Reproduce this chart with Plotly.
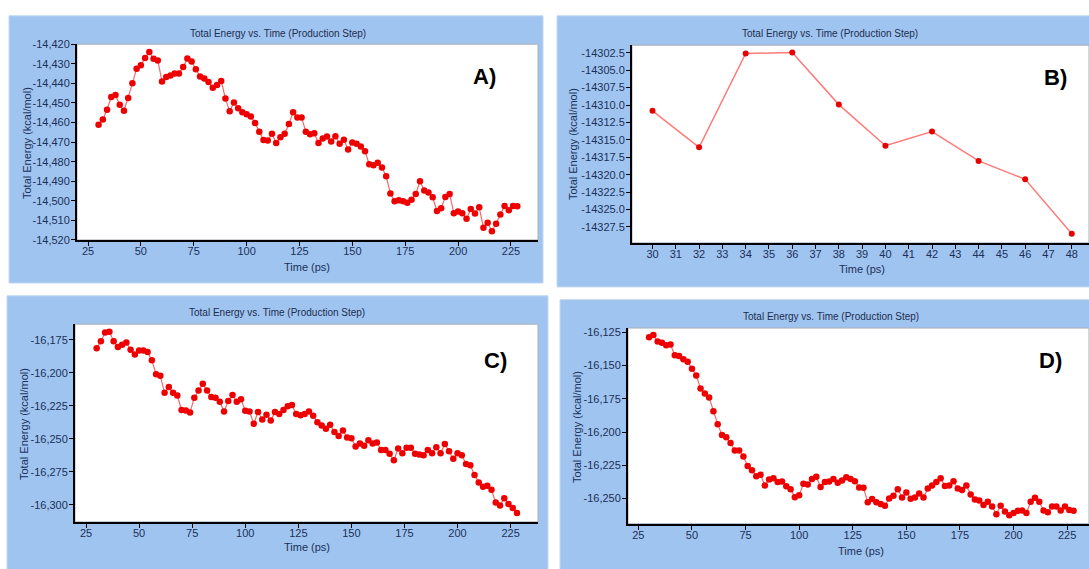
import plotly.graph_objects as go

W, H = 1089, 569

# ---------------- data ----------------
time_A = list(range(30, 230, 2))
energy_A = [
    -14461.2, -14458.5, -14453.5, -14447.0, -14446.0, -14451.0, -14454.0, -14447.5, -14440.0, -14432.5,
    -14430.7, -14427.0, -14424.0, -14427.5, -14428.3, -14439.0, -14436.7, -14436.0, -14435.0, -14435.0,
    -14431.7, -14427.3, -14428.8, -14432.8, -14436.5, -14437.5, -14439.3, -14442.3, -14440.8, -14438.8,
    -14447.8, -14454.3, -14449.8, -14452.7, -14454.8, -14455.8, -14457.0, -14460.2, -14464.7, -14469.0,
    -14469.2, -14465.8, -14470.5, -14467.5,
    -14465.8, -14460.8, -14454.8, -14457.5, -14457.5, -14464.7, -14466.0, -14465.5, -14470.5, -14468.2,
    -14467.2, -14469.7, -14467.0, -14470.8, -14468.8, -14473.8, -14470.2, -14470.8, -14472.2, -14474.7,
    -14481.3, -14481.8, -14480.5, -14483.0, -14487.5, -14496.3, -14500.2, -14499.7, -14500.2, -14501.0,
    -14499.5, -14496.5, -14490.0, -14494.7, -14495.8, -14498.2, -14505.2, -14503.8, -14498.0, -14496.5,
    -14506.3, -14505.5, -14506.3, -14509.2, -14504.2, -14506.5, -14503.3, -14513.7, -14511.2, -14515.5,
    -14511.7, -14507.0, -14502.7, -14504.8, -14502.7, -14502.8,
]

time_B = [30, 32, 34, 36, 38, 40, 42, 44, 46, 48]
energy_B = [-14310.83, -14316.07, -14302.6, -14302.45, -14309.94,
            -14315.84, -14313.8, -14318.03, -14320.66, -14328.48]

time_C = list(range(30, 230, 2))
energy_C = [
    -16181.2, -16176.0, -16169.3, -16168.8, -16176.0, -16180.4, -16178.7, -16177.0, -16182.4, -16186.1,
    -16182.9, -16182.9, -16184.2, -16190.3, -16201.0, -16202.2, -16215.1, -16210.6, -16215.1, -16217.1,
    -16228.2, -16228.5, -16230.0, -16218.8, -16213.4, -16208.2, -16213.4, -16218.3, -16218.8, -16221.8,
    -16229.2, -16221.3, -16216.8, -16221.8, -16220.0, -16228.7, -16229.2, -16238.6, -16229.7, -16235.4,
    -16231.7, -16236.1, -16229.7, -16231.2,
    -16228.2, -16225.2, -16224.3, -16231.2, -16232.2, -16231.2, -16229.2, -16232.4, -16237.4, -16239.9,
    -16242.3, -16239.4, -16244.8, -16247.8, -16243.6, -16249.0, -16249.5, -16255.9, -16253.5, -16255.2,
    -16251.0, -16253.5, -16252.7, -16258.4, -16258.4, -16261.4, -16266.3, -16257.4, -16260.9, -16256.7,
    -16256.7, -16261.4, -16261.9, -16262.4, -16258.4, -16260.9, -16256.4, -16260.9, -16254.0, -16259.4,
    -16265.1, -16260.9, -16262.4, -16269.1, -16270.0, -16277.5, -16283.2, -16286.4, -16285.6, -16288.6,
    -16298.3, -16300.5, -16295.0, -16299.5, -16302.5, -16306.2,
]

time_D = list(range(30, 230, 2))
energy_D = [
    -16128.7, -16127.0, -16131.9, -16132.8, -16134.8, -16134.1, -16142.2, -16142.9, -16145.3, -16147.1,
    -16152.5, -16157.4, -16167.2, -16171.1, -16174.0, -16184.3, -16194.1, -16202.2, -16203.9, -16208.3,
    -16214.0, -16214.0, -16218.4, -16225.5, -16228.7, -16233.3, -16232.1, -16240.2, -16235.8, -16234.8,
    -16237.7, -16237.3, -16240.9, -16243.1, -16249.0, -16247.5, -16239.0, -16239.5, -16235.3, -16233.6,
    -16241.4,
    -16237.7, -16237.3, -16235.3, -16238.2, -16236.5, -16234.1, -16235.3, -16237.0, -16241.7, -16241.9,
    -16252.9, -16250.5, -16252.9, -16254.2, -16255.4, -16250.0, -16248.0, -16243.1, -16249.3, -16245.6,
    -16250.2, -16249.3, -16246.3, -16249.3, -16242.6, -16240.2, -16237.7, -16234.8, -16240.7, -16240.2,
    -16237.0, -16242.6, -16243.6, -16240.2, -16247.1, -16250.7, -16251.5, -16254.9, -16252.5, -16256.1,
    -16261.8, -16255.4, -16259.8, -16262.7, -16261.0, -16259.3, -16259.1, -16261.0, -16252.5, -16249.5,
    -16252.5, -16259.1, -16260.3, -16256.1, -16256.1, -16259.1, -16256.1, -16258.6, -16259.3,
]

xticks_ACD = [25, 50, 75, 100, 125, 150, 175, 200, 225]
xticks_B = list(range(30, 49))
yticks_A = [-14520, -14510, -14500, -14490, -14480, -14470, -14460, -14450, -14440, -14430, -14420]
yticks_B = [-14327.5, -14325.0, -14322.5, -14320.0, -14317.5, -14315.0, -14312.5,
            -14310.0, -14307.5, -14305.0, -14302.5]
yticks_C = [-16300, -16275, -16250, -16225, -16200, -16175]
yticks_D = [-16250, -16225, -16200, -16175, -16150, -16125]

chart_title = "Total Energy vs. Time (Production Step)"
y_title = "Total Energy (kcal/mol)"
x_title = "Time (ps)"
panel_labels = ["A)", "B)", "C)", "D)"]

# ---------------- layout helpers ----------------
def px(x):
    return x / W

def py(y):
    return 1 - y / H

FONT = "Liberation Sans, Arial, sans-serif"
TICK_COLOR = "#1b3058"
BLUE = "#a0c4f0"

panels = [
    dict(plot=(77, 39, 538, 239), blue=(9, 10, 543, 283), xr=[19.8, 237.8], yr=[-14520, -14420],
         t=time_A, e=energy_A, xt=xticks_ACD, yt=yticks_A, yfmt="{:,.0f}",
         title_xy=(278, 28), ytitle_xy=(27, 140), xtitle_xy=(307, 267), lab_xy=(484, 72), B=False),
    dict(plot=(632, 40, 1089, 242), blue=(557, 10, 1110, 287), xr=[29.12, 48.74], yr=[-14329.8, -14301.4],
         t=time_B, e=energy_B, xt=xticks_B, yt=yticks_B, yfmt="{:.1f}",
         title_xy=(830, 28), ytitle_xy=(573, 141), xtitle_xy=(862, 269), lab_xy=(1055, 73), B=True),
    dict(plot=(75, 325, 538, 527), blue=(7, 296, 548, 590), xr=[19.8, 237.9], yr=[-16313, -16163],
         t=time_C, e=energy_C, xt=xticks_ACD, yt=yticks_C, yfmt="{:,.0f}",
         title_xy=(277, 313), ytitle_xy=(24, 427), xtitle_xy=(307, 553), lab_xy=(495, 362), B=False),
    dict(plot=(628, 329, 1089, 529), blue=(560, 300, 1110, 590), xr=[20.17, 235.2], yr=[-16269.1, -16121.8],
         t=time_D, e=energy_D, xt=xticks_ACD, yt=yticks_D, yfmt="{:,.0f}",
         title_xy=(831, 317), ytitle_xy=(577, 430), xtitle_xy=(861, 557), lab_xy=(1050, 362), B=False),
]

fig = go.Figure()
shapes = []
annotations = []
layout_axes = {}

for i, p in enumerate(panels, start=1):
    xa = "x" if i == 1 else f"x{i}"
    ya = "y" if i == 1 else f"y{i}"
    xkey = "xaxis" if i == 1 else f"xaxis{i}"
    ykey = "yaxis" if i == 1 else f"yaxis{i}"
    l, t, r, b = p["plot"]
    bl, bt, br, bb = p["blue"]

    shapes.append(dict(type="rect", xref="paper", yref="paper", x0=px(bl), x1=px(br), y0=py(bb), y1=py(bt),
                       fillcolor=BLUE, line=dict(color="#c3d8f2", width=1), layer="below"))
    shapes.append(dict(type="rect", xref="paper", yref="paper", x0=px(l), x1=px(r), y0=py(b), y1=py(t),
                       fillcolor="white", line=dict(color="#a8aeb6", width=1), layer="below"))

    if p["B"]:
        marker = dict(color="#e60000", size=6)
        line = dict(color="#ff7a7a", width=1.5)
    else:
        marker = dict(color="#ee0000", size=6.5)
        line = dict(color="#f26a6a", width=1.2)

    fig.add_trace(go.Scatter(x=p["t"], y=p["e"], mode="lines+markers", marker=marker, line=line,
                             xaxis=xa, yaxis=ya, showlegend=False, cliponaxis=False))

    layout_axes[xkey] = dict(domain=[px(l), px(r)], range=p["xr"], anchor=ya,
                             tickvals=p["xt"], ticktext=[str(v) for v in p["xt"]],
                             showgrid=False, zeroline=False, showline=True, linecolor="black", linewidth=2,
                             ticks="outside", ticklen=4, tickcolor="black", tickwidth=1,
                             ticklabelstandoff=-4,
                             tickfont=dict(family=FONT, size=11, color=TICK_COLOR))
    layout_axes[ykey] = dict(domain=[py(b), py(t)], range=p["yr"], anchor=xa,
                             tickvals=p["yt"], ticktext=[p["yfmt"].format(v) for v in p["yt"]],
                             showgrid=False, zeroline=False, showline=True, linecolor="black", linewidth=2,
                             ticks="outside", ticklen=4, tickcolor="black", tickwidth=1,
                             ticklabelstandoff=-1,
                             tickfont=dict(family=FONT, size=11, color=TICK_COLOR))

    tx, ty = p["title_xy"]
    annotations.append(dict(text=chart_title, xref="paper", yref="paper", x=px(tx), y=py(ty),
                            showarrow=False, xanchor="center", yanchor="middle",
                            font=dict(family=FONT, size=10, color="#1c2d4f")))
    yx, yy = p["ytitle_xy"]
    annotations.append(dict(text=y_title, xref="paper", yref="paper", x=px(yx), y=py(yy),
                            showarrow=False, xanchor="center", yanchor="middle", textangle=-90,
                            font=dict(family=FONT, size=11, color=TICK_COLOR)))
    xx, xy = p["xtitle_xy"]
    annotations.append(dict(text=x_title, xref="paper", yref="paper", x=px(xx), y=py(xy),
                            showarrow=False, xanchor="center", yanchor="middle",
                            font=dict(family=FONT, size=11, color=TICK_COLOR)))
    lx, ly = p["lab_xy"]
    annotations.append(dict(text=f"<b>{panel_labels[i-1]}</b>", xref="paper", yref="paper",
                            x=px(lx), y=py(ly), showarrow=False, xanchor="center", yanchor="middle",
                            font=dict(family=FONT, size=22, color="black")))

fig.update_layout(
    width=W, height=H,
    margin=dict(l=0, r=0, t=0, b=0),
    paper_bgcolor="white",
    plot_bgcolor="rgba(0,0,0,0)",
    shapes=shapes,
    annotations=annotations,
    showlegend=False,
    **layout_axes,
)

post_js = (
    "document.body.style.margin='0';document.body.style.padding='0';"
    "document.body.style.overflow='hidden';"
    "var gd=document.getElementById('{plot_id}');"
    "gd.style.position='absolute';gd.style.left='0px';gd.style.top='0px';"
)

fig.write_html("out.html", post_script=post_js, config={"displayModeBar": False})
